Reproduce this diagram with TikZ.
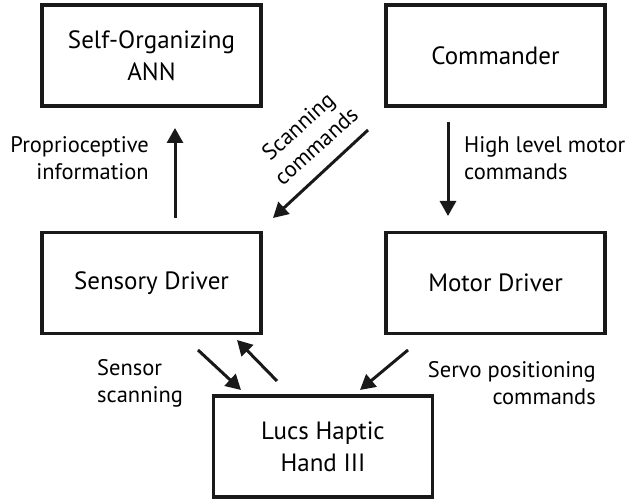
\documentclass[tikz,border=0pt]{standalone}
\usepackage{fontspec}
\setmainfont{PT Sans}
\usetikzlibrary{arrows.meta}
\begin{document}
\begin{tikzpicture}[x=1pt,y=-1pt,
  box/.style={draw=black!90, line width=3.5pt, minimum width=219pt, minimum height=101pt,
    align=center, inner sep=0pt, font=\fontsize{25}{32}\selectfont},
  lbl/.style={inner sep=0pt, font=\fontsize{22.5}{27}\selectfont},
  arr/.style={draw=black!90, line width=3pt, -{Triangle[length=15pt,width=16pt]}}]
\useasboundingbox (0,0) rectangle (625,500);
\node[box] (ann) at (151.5,55.5) {Self-Organizing\\ANN};
\node[box] (cmd) at (495.5,55.5) {Commander};
\node[box] (sens) at (151.5,283) {Sensory Driver};
\node[box] (mot) at (495.5,283) {Motor Driver};
\node[box] (hand) at (323,446.5) {Lucs Haptic\\Hand III};

\coordinate (a1) at (175,218); \coordinate (a2) at (175,128);
\coordinate (b1) at (448,122); \coordinate (b2) at (448,216);
\coordinate (c1) at (368,130); \coordinate (c2) at (273,218);
\coordinate (d1) at (198,350); \coordinate (d2) at (241,390);
\coordinate (e1) at (277,381); \coordinate (e2) at (237,340);
\coordinate (f1) at (408,350); \coordinate (f2) at (360,390);

\draw[arr] (a1) -- (a2);
\draw[arr] (b1) -- (b2);
\draw[arr] (c1) -- (c2);
\draw[arr] (d1) -- (d2);
\draw[arr] (e1) -- (e2);
\draw[arr] (f1) -- (f2);

\node[lbl, align=right, anchor=east] (l1) at (149,158) {Proprioceptive\\information};
\node[lbl, align=left, anchor=west] (l2) at (464,158) {High level motor\\commands};
\node[lbl, align=center, rotate=42] (l3) at (307,136) {Scanning\\commands};
\node[lbl, align=left, anchor=west] (l4) at (97,383) {Sensor\\scanning};
\node[lbl, align=right, anchor=east] (l5) at (596,383) {Servo positioning\\commands};
\end{tikzpicture}
\end{document}
